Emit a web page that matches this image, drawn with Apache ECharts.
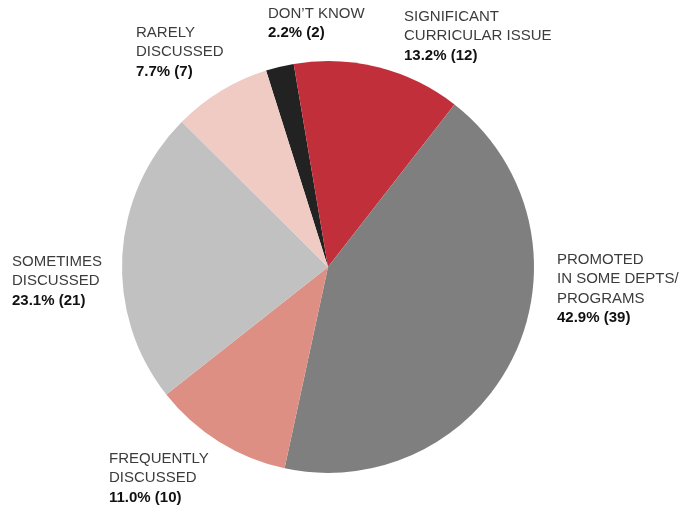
<!DOCTYPE html>
<html>
<head>
<meta charset="utf-8">
<script src="https://cdn.jsdelivr.net/npm/echarts@6/dist/echarts.min.js"></script>
<style>html,body{margin:0;padding:0;background:#fff}#c{width:684px;height:510px}</style>
</head>
<body>
<div id="c"></div>
<script>
var categories = ["DON\u2019T KNOW", "SIGNIFICANT\nCURRICULAR ISSUE", "PROMOTED\nIN SOME DEPTS/\nPROGRAMS", "FREQUENTLY\nDISCUSSED", "SOMETIMES\nDISCUSSED", "RARELY\nDISCUSSED"];
var counts = [2, 12, 39, 10, 21, 7];
var colors = ["#222222", "#c12f3a", "#7f7f7f", "#de8f83", "#c1c1c1", "#f0cbc3"];
var labelPos = [[268, 4], [404, 7], [557, 250], [109, 449], [12, 252], [136, 23]];

var total = counts.reduce(function(a, b){ return a + b; }, 0);
var FONT = '"Liberation Sans", Arial, sans-serif';
var chart = echarts.init(document.getElementById('c'));
chart.setOption({
  animation: false,
  series: [{
    type: 'pie',
    center: [328, 267],
    radius: [0, 206],
    startAngle: 107.5,
    clockwise: true,
    avoidLabelOverlap: false,
    data: categories.map(function(n, i){ return {name: n, value: counts[i], itemStyle: {color: colors[i]}}; }),
    labelLine: {show: false},
    label: {
      show: true,
      position: 'outside',
      align: 'left',
      verticalAlign: 'top',
      fontFamily: FONT,
      formatter: function(p){
        var pct = (p.value / total * 100).toFixed(1);
        var lines = p.name.split('\n').map(function(l){ return '{n|' + l + '}'; }).join('\n');
        return lines + '\n{v|' + pct + '% (' + p.value + ')}';
      },
      rich: {
        n: {fontSize: 15, color: '#3c3c3c', lineHeight: 19.5, fontFamily: FONT},
        v: {fontSize: 15, color: '#111', fontWeight: 'bold', lineHeight: 19.5, fontFamily: FONT}
      }
    },
    labelLayout: function(params){
      var p = labelPos[params.dataIndex];
      return {x: p[0], y: p[1], align: 'left', verticalAlign: 'top'};
    }
  }]
});
</script>
</body>
</html>
